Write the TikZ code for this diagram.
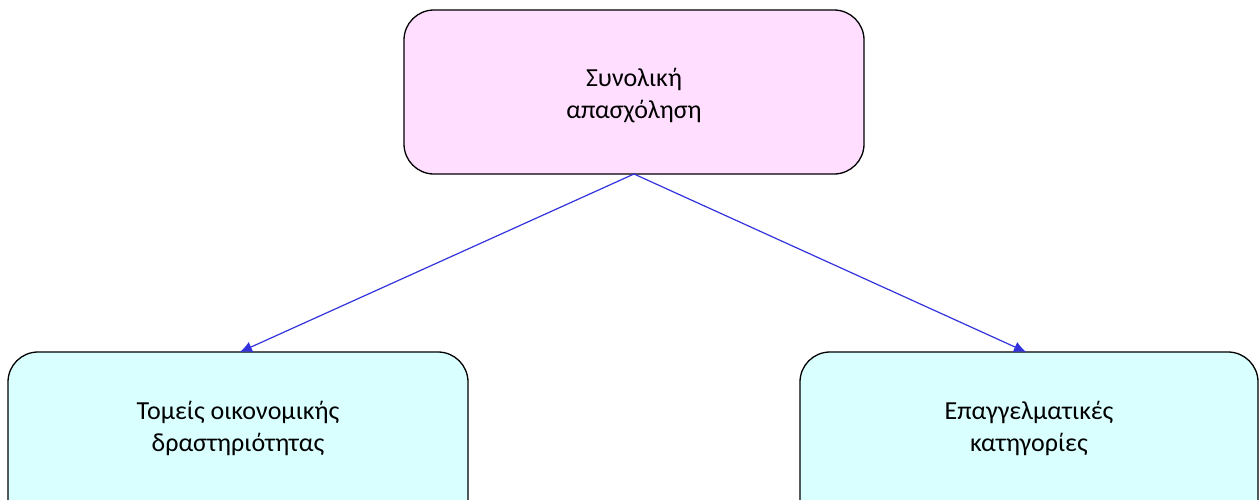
\documentclass[tikz,border=0pt]{standalone}
\usepackage{fontspec}
\setmainfont{Carlito}
\usetikzlibrary{arrows.meta}
\begin{document}
\begin{tikzpicture}[x=1pt,y=-1pt,
  boxshape/.style={draw=black,line width=1.3pt,rounded corners=30pt},
  boxtext/.style={font=\fontsize{26}{32}\selectfont,align=center,inner sep=0pt},
  conn/.style={draw={rgb,255:red,51;green,51;blue,221},line width=1.2pt,-{Latex[length=12pt,width=11pt]}}]
\useasboundingbox[fill=white] (0,0) rectangle (1259,499);
\draw[boxshape,fill={rgb,255:red,255;green,222;blue,255}] (404,10) rectangle (864,174);
\node[boxtext] (top) at (634,96) {Συνολική\\απασχόληση};
\draw[boxshape,fill={rgb,255:red,217;green,255;blue,255}] (8,352) rectangle (468,530);
\node[boxtext] (left) at (238,428) {Τομείς οικονομικής\\δραστηριότητας};
\draw[boxshape,fill={rgb,255:red,217;green,255;blue,255}] (800,352) rectangle (1258,530);
\node[boxtext] (right) at (1029,428) {Επαγγελματικές\\κατηγορίες};
\coordinate (tb) at (634,174);
\coordinate (lt) at (240,352);
\coordinate (rt) at (1026,352);
\draw[conn] (tb) -- (lt);
\draw[conn] (tb) -- (rt);
\end{tikzpicture}
\end{document}
